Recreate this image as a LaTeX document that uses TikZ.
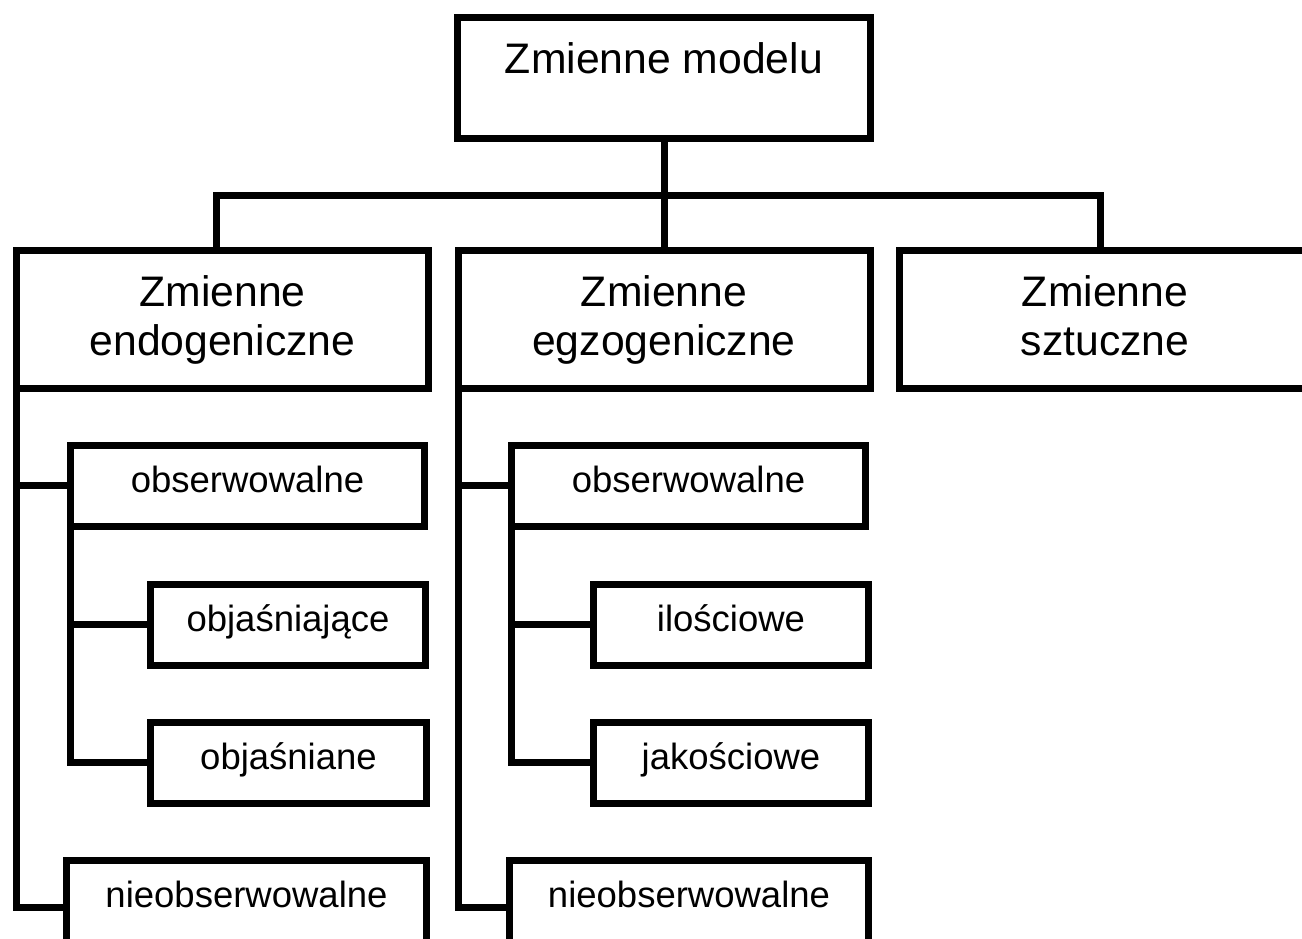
\documentclass[tikz,border=0pt]{standalone}
\usepackage{fontspec}
\setmainfont{Liberation Sans}
\begin{document}
\begin{tikzpicture}[x=1pt,y=-1pt]
\tikzset{
  heavy/.style={line width=7pt, line join=miter},
  frame/.style={draw, heavy, inner sep=0pt, outer sep=0pt, align=center},
  headfont/.style={font=\fontsize{42.7}{49}\selectfont},
  leaffont/.style={font=\fontsize{36.5}{42}\selectfont},
  head/.style={frame, headfont, minimum width=412pt, minimum height=138pt},
  leaf/.style={frame, leaffont, anchor=base, text height=47pt, text depth=34pt},
  conn/.style={heavy},
}
% page area
\useasboundingbox (0,0) rectangle (1302,938);
\fill[white] (0,0) rectangle (1302,938);
\clip (0,0) rectangle (1302,938);

% root
\node[frame, headfont, anchor=base, minimum width=413pt,
      text height=55.5pt, text depth=65.5pt] (root) at (664,73) {Zmienne modelu};

% second level
\node[head] (endo) at (222.5,319.5) {Zmienne\\endogeniczne};
\node[head] (egzo) at (664,319.5)   {Zmienne\\egzogeniczne};
\node[head] (sztu) at (1105,319.5)  {Zmienne\\sztuczne\vphantom{g}};

% endogenous branch
\node[leaf, minimum width=354pt] (lobs)  at (247.5,492) {obserwowalne};
\node[leaf, minimum width=275pt] (lobj1) at (288,631)   {objaśniające};
\node[leaf, minimum width=276pt] (lobj2) at (288.5,769) {objaśniane};
\node[leaf, minimum width=360pt, text depth=80pt] (lnie) at (246.5,907) {nieobserwowalne};

% exogenous branch
\node[leaf, minimum width=354pt] (mobs) at (688.5,492) {obserwowalne};
\node[leaf, minimum width=275pt] (milo) at (731,631)   {ilościowe};
\node[leaf, minimum width=275pt] (mjak) at (731,769)   {jakościowe};
\node[leaf, minimum width=359pt, text depth=80pt] (mnie) at (689,907) {nieobserwowalne};

% bus from the root
\coordinate (busL) at (216,195);
\coordinate (busR) at (1100,195);
\draw[conn] (root.south) -- (egzo.north);
\draw[conn] (busL |- endo.north) -- (busL) -- (busR) -- (busR |- sztu.north);

% endogenous tree
\draw[conn] (endo.south west) |- (lnie.base west);
\draw[conn] (endo.south west |- lobs.west) -- (lobs.west);
\draw[conn] (lobs.south west) |- (lobj2.west);
\draw[conn] (lobs.south west |- lobj1.west) -- (lobj1.west);

% exogenous tree
\draw[conn] (egzo.south west) |- (mnie.base west);
\draw[conn] (egzo.south west |- mobs.west) -- (mobs.west);
\draw[conn] (mobs.south west) |- (mjak.west);
\draw[conn] (mobs.south west |- milo.west) -- (milo.west);
\end{tikzpicture}
\end{document}
